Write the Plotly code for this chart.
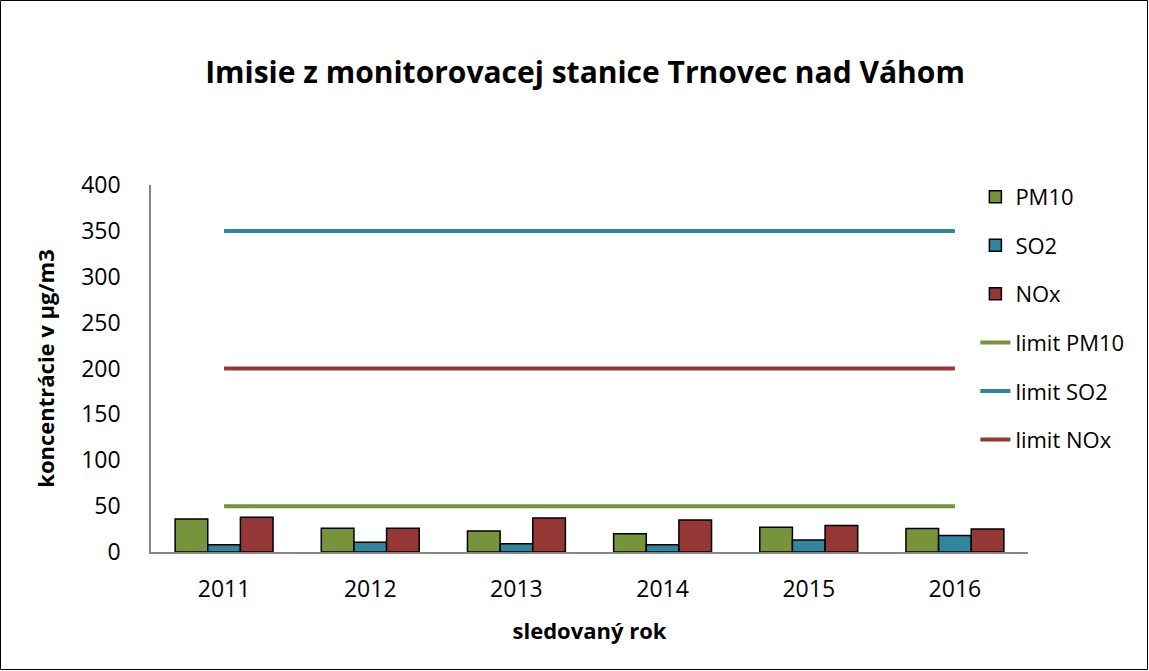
import plotly.graph_objects as go

years = ["2011", "2012", "2013", "2014", "2015", "2016"]
pm10 = [36, 26, 23, 20, 27, 25.5]
so2 = [8, 10.5, 9, 8, 13, 18]
nox = [38, 26, 37, 35, 29, 25]
limit_pm10 = [50, 50, 50, 50, 50, 50]
limit_so2 = [350, 350, 350, 350, 350, 350]
limit_nox = [200, 200, 200, 200, 200, 200]

c_pm = "#77933C"
c_so = "#31859C"
c_no = "#953735"

W, H = 1149, 671
ml, mr, mt, mb = 151, 121, 185, 119
pw, ph = W - ml - mr, H - mt - mb

fig = go.Figure()
for name, vals, col in [("PM10", pm10, c_pm), ("SO2", so2, c_so), ("NOx", nox, c_no)]:
    fig.add_trace(go.Bar(x=years, y=vals, name=name, legendgroup=name,
                         marker=dict(color=col, line=dict(color="black", width=1.5))))
for name, vals, col in [("limit PM10", limit_pm10, c_pm), ("limit SO2", limit_so2, c_so),
                        ("limit NOx", limit_nox, c_no)]:
    fig.add_trace(go.Scatter(x=years, y=vals, name=name, legendgroup=name, mode="lines",
                             line=dict(color=col, width=4)))

fig.update_layout(
    width=W, height=H,
    margin=dict(l=ml, r=mr, t=mt, b=mb),
    paper_bgcolor="white", plot_bgcolor="white",
    barmode="group", bargap=0.33, bargroupgap=0,
    font=dict(family="Open Sans, Liberation Sans, sans-serif", color="black"),
    title=dict(text="<b>Imisie z monitorovacej stanice Trnovec nad Váhom</b>",
               x=585 / W, xanchor="center", y=1 - 72 / H, yanchor="middle",
               font=dict(size=30, color="black")),
    legend=dict(x=0.94, y=1.025, xanchor="left", yanchor="top",
                font=dict(size=22), tracegroupgap=17, bgcolor="rgba(0,0,0,0)"),
    xaxis=dict(showline=True, linecolor="#868686", linewidth=1.5, ticks="",
               tickfont=dict(size=23), ticklabelstandoff=16,
               title=dict(text="<b>sledovaný rok</b>", font=dict(size=22), standoff=20)),
    yaxis=dict(range=[0, 400], dtick=50, showgrid=False, showline=True,
               linecolor="#868686", linewidth=1.5, ticks="", zeroline=False,
               tickfont=dict(size=23), ticklabelstandoff=24,
               title=dict(text="<b>koncentrácie v µg/m3</b>", font=dict(size=22), standoff=20)),
    shapes=[dict(type="rect", xref="paper", yref="paper",
                 x0=-(ml - 0.5) / pw, x1=1 + (mr - 1.5) / pw,
                 y0=-(mb - 1.5) / ph, y1=1 + (mt - 0.5) / ph,
                 line=dict(color="black", width=1), fillcolor="rgba(0,0,0,0)")],
)

fig.write_html("out.html", config={"displayModeBar": False},
               post_script="document.body.style.margin='0px';")
